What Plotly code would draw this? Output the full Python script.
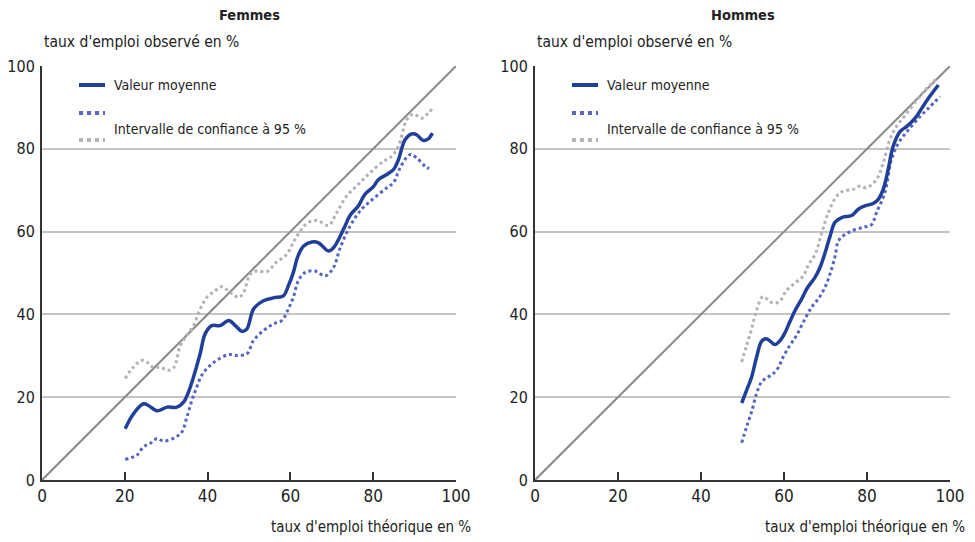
import plotly.graph_objects as go
from plotly.subplots import make_subplots

# Femmes
f_moy_x = [20.1, 22.1, 24.5, 25.7, 27.8, 30.2, 32.6, 34.2, 35.4, 36.6, 38.2, 39.4, 41.0, 43.0, 45.1,
           46.7, 48.3, 49.5, 51.1, 53.5, 55.9, 58.3, 59.5, 60.7, 61.8, 63.2, 65.2, 66.8, 69.2, 70.4,
           72.8, 74.4, 76.4, 78.0, 80.0, 81.3, 83.3, 84.9, 86.1, 87.7, 89.3, 90.5, 92.1, 93.3, 94.3]
f_moy_y = [12.4, 16.0, 18.4, 18.0, 16.7, 17.6, 17.6, 18.8, 21.3, 24.9, 30.5, 35.3, 37.3, 37.3, 38.5,
           37.3, 35.9, 36.5, 41.3, 43.3, 44.0, 44.5, 46.9, 50.1, 54.0, 56.5, 57.5, 57.3, 55.3, 56.1,
           60.5, 63.9, 66.2, 69.0, 70.8, 72.6, 73.8, 75.0, 77.4, 82.2, 83.6, 83.4, 82.0, 82.4, 83.8]
f_bas_x = [20.1, 22.9, 24.5, 26.1, 27.8, 29.4, 32.2, 33.8, 35.0, 36.2, 37.4, 38.6, 40.2, 42.2, 45.1,
           47.1, 49.5, 51.1, 53.5, 55.9, 57.9, 59.5, 60.7, 61.9, 63.5, 65.9, 68.4, 70.4, 72.0, 74.4,
           77.2, 80.0, 83.3, 84.9, 86.5, 88.9, 90.5, 92.5, 93.5]
f_bas_y = [5.0, 6.0, 8.0, 8.8, 10.0, 9.4, 10.3, 11.6, 15.2, 19.2, 22.5, 25.3, 27.3, 28.9, 30.3,
           30.1, 30.5, 33.7, 36.1, 37.7, 38.5, 41.3, 44.1, 48.1, 50.1, 50.5, 49.3, 51.3, 56.0, 61.3,
           65.4, 67.9, 70.6, 71.8, 75.4, 78.6, 77.8, 75.8, 75.2]
f_haut_x = [20.1, 22.1, 24.1, 25.3, 27.0, 28.6, 30.2, 31.8, 33.4, 35.0, 36.6, 38.2, 39.8, 41.8, 43.4,
            45.5, 47.5, 48.7, 50.3, 51.9, 54.3, 56.5, 59.1, 61.1, 64.0, 66.4, 69.2, 71.2, 73.6, 76.4,
            79.2, 82.5, 84.5, 86.1, 88.1, 89.7, 91.7, 93.3, 94.3]
f_haut_y = [24.5, 27.3, 28.9, 28.5, 27.1, 27.3, 26.5, 27.1, 32.5, 34.9, 37.3, 41.3, 44.1, 45.7, 46.7,
            45.3, 44.1, 45.3, 49.7, 50.5, 50.3, 52.5, 54.5, 58.1, 62.0, 62.7, 61.5, 64.6, 68.6, 71.4,
            74.2, 77.0, 78.2, 80.6, 87.0, 88.4, 87.4, 88.6, 89.7]

# Hommes
h_moy_x = [49.8, 51.0, 52.2, 53.4, 54.6, 55.7, 56.6, 57.8, 59.0, 60.2, 61.4, 62.7, 64.3, 65.5, 67.5,
           68.7, 69.9, 71.1, 72.3, 73.9, 76.3, 77.9, 79.5, 81.5, 82.7, 83.9, 85.1, 86.3, 88.0, 89.6,
           91.6, 93.2, 94.8, 97.2]
h_moy_y = [18.6, 21.7, 24.9, 29.7, 33.5, 34.1, 33.6, 32.7, 33.6, 35.5, 38.2, 41.0, 43.8, 46.2, 49.0,
           51.4, 54.9, 58.9, 62.3, 63.4, 63.9, 65.4, 66.2, 66.8, 67.8, 70.2, 75.0, 80.6, 84.2, 85.4,
           87.4, 89.8, 92.2, 95.4]
h_bas_x = [49.8, 51.0, 52.2, 53.4, 54.6, 56.2, 57.4, 58.6, 59.8, 61.4, 63.0, 65.1, 66.7, 68.3, 69.9,
           71.1, 72.3, 73.1, 74.7, 77.1, 79.5, 81.1, 82.3, 84.3, 85.9, 87.6, 90.0, 92.8, 94.8, 97.6]
h_bas_y = [9.0, 12.9, 16.5, 20.9, 23.7, 24.9, 25.7, 27.1, 29.7, 32.5, 34.9, 39.0, 41.8, 43.8, 46.6,
           49.8, 54.0, 57.7, 59.3, 60.5, 61.1, 61.7, 64.6, 69.4, 77.4, 81.4, 84.6, 87.8, 89.8, 92.6]
h_haut_x = [49.8, 51.0, 52.2, 53.4, 54.9, 56.2, 57.4, 59.0, 60.6, 62.7, 64.7, 65.9, 67.5, 69.1, 70.7,
            72.7, 74.3, 76.7, 78.3, 79.9, 82.3, 83.9, 85.5, 87.1, 89.6, 92.0, 94.4, 96.8]
h_haut_y = [28.5, 32.5, 36.5, 41.0, 44.3, 43.5, 42.7, 43.2, 45.8, 47.6, 49.4, 52.0, 54.5, 59.7, 64.6,
            68.6, 69.8, 70.2, 71.0, 70.6, 72.6, 76.6, 82.2, 85.4, 88.6, 91.8, 94.6, 97.0]

diag = [0, 100]
ticks = [0, 20, 40, 60, 80, 100]

FONT = "DejaVu Sans Condensed, Liberation Sans Narrow, sans-serif"
BLUE = "#1f3f99"
LBLUE = "#5566c0"
GREY = "#b3b3b3"
DIAG = "#8a8a8a"
TXT = "#222222"

# the page has an 8px body margin, so the figure is drawn 8px in and a bit smaller
OFF = 8
W, H = 975 - OFF, 542 - OFF


def px(x):
    return (x - OFF) / W


def py(y):
    return 1 - (y - OFF) / H


fig = make_subplots(rows=1, cols=2)

panels = [
    (1, f_moy_x, f_moy_y, f_bas_x, f_bas_y, f_haut_x, f_haut_y),
    (2, h_moy_x, h_moy_y, h_bas_x, h_bas_y, h_haut_x, h_haut_y),
]
for col, mx, my, bx, by, hx, hy in panels:
    fig.add_trace(go.Scatter(x=diag, y=diag, mode="lines", line=dict(color=DIAG, width=2),
                             showlegend=False, hoverinfo="skip"), row=1, col=col)
    fig.add_trace(go.Scatter(x=hx, y=hy, mode="lines", line=dict(color=GREY, width=3, dash="dot", shape="spline"),
                             showlegend=False), row=1, col=col)
    fig.add_trace(go.Scatter(x=bx, y=by, mode="lines", line=dict(color=LBLUE, width=3, dash="dot", shape="spline"),
                             showlegend=False), row=1, col=col)
    fig.add_trace(go.Scatter(x=mx, y=my, mode="lines", line=dict(color=BLUE, width=3.5, shape="spline"),
                             showlegend=False), row=1, col=col)

ydom = [py(480), py(66)]
lefts = [42, 535]
rights = [456, 950]

for i in range(2):
    dom = [px(lefts[i]), px(rights[i])]
    fig.update_xaxes(row=1, col=i + 1, domain=dom, range=[0, 100], tickvals=ticks, showgrid=False,
                     showline=True, linecolor="#333333", linewidth=2, ticks="inside", ticklen=8,
                     tickwidth=2, tickcolor="#333333", zeroline=False, automargin=False,
                     tickfont=dict(family=FONT, size=17, color=TXT))
    fig.update_yaxes(row=1, col=i + 1, domain=ydom, range=[0, 100], tickvals=ticks, showgrid=True,
                     gridcolor="#c4c4c4", gridwidth=1.5, showline=True, linecolor="#333333",
                     linewidth=2, ticks="", zeroline=False, ticklabelstandoff=2, automargin=False,
                     tickfont=dict(family=FONT, size=16, color=TXT))

titles = ["Femmes", "Hommes"]
for i, t in enumerate(titles):
    l, r = lefts[i], rights[i]
    fig.add_annotation(text="<b>" + t + "</b>", x=px((l + r) / 2), y=py(15), xref="paper", yref="paper",
                       showarrow=False, xanchor="center", yanchor="middle",
                       font=dict(family=FONT, size=14.5, color=TXT))
    fig.add_annotation(text="taux d'emploi observé en %", x=px(l), y=py(42), xref="paper",
                       yref="paper", showarrow=False, xanchor="left", yanchor="middle",
                       font=dict(family=FONT, size=15.5, color=TXT))
    fig.add_annotation(text="taux d'emploi théorique en %", x=px(r + 17), y=py(527),
                       xref="paper", yref="paper", showarrow=False, xanchor="right", yanchor="middle",
                       font=dict(family=FONT, size=15, color=TXT))
    # legend
    for yy, col, dash in [(85, BLUE, "solid"), (113, LBLUE, "dot"), (140, GREY, "dot")]:
        fig.add_shape(type="line", xref="paper", yref="paper", x0=px(l + 37), x1=px(l + 63),
                      y0=py(yy), y1=py(yy), line=dict(color=col, width=4, dash=dash))
    fig.add_annotation(text="Valeur moyenne", x=px(l + 70), y=py(85), xref="paper", yref="paper",
                       showarrow=False, xanchor="left", yanchor="middle",
                       font=dict(family=FONT, size=14, color=TXT))
    fig.add_annotation(text="Intervalle de confiance à 95 %", x=px(l + 70), y=py(129),
                       xref="paper", yref="paper", showarrow=False, xanchor="left", yanchor="middle",
                       font=dict(family=FONT, size=14, color=TXT))

fig.update_layout(width=W, height=H, margin=dict(l=0, r=0, t=0, b=0), plot_bgcolor="white",
                  paper_bgcolor="white", showlegend=False, font=dict(family=FONT))

fig.write_html("out.html")
